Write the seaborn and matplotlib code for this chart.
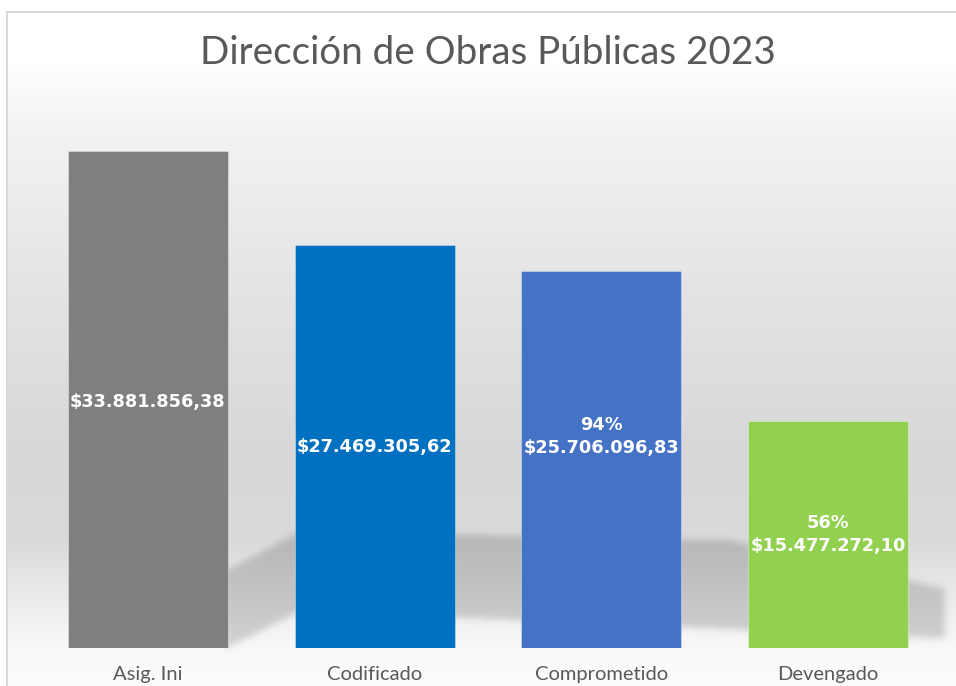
import numpy as np
import pandas as pd
import matplotlib
matplotlib.use("Agg")
import matplotlib.pyplot as plt
from matplotlib.path import Path
import seaborn as sns

# ---------------- data ----------------
categories = ["Asig. Ini", "Codificado", "Comprometido", "Devengado"]
values = [33881856.38, 27469305.62, 25706096.83, 15477272.10]
percent_labels = ["", "", "94%", "56%"]
value_labels = ["$33.881.856,38", "$27.469.305,62", "$25.706.096,83", "$15.477.272,10"]
bar_colors = ["#7f7f7f", "#0070c0", "#4472c4", "#92d050"]
title = "Dirección de Obras Públicas 2023"

W, H = 956, 686
DPI = 100

sns.set_theme(style="white")
plt.rcParams["font.family"] = ["Lato", "DejaVu Sans"]

fig = plt.figure(figsize=(W / DPI, H / DPI), dpi=DPI)
fig.patch.set_facecolor("white")

# ---------------- background (gradient + soft shadow + frame) ----------------
yy = np.arange(H)
stops_y = [0, 60, 130, 300, 450, 540, 600, 650, 686]
stops_v = [255, 255, 243, 227, 216, 218, 236, 249, 252]
prof = np.interp(yy, stops_y, stops_v) / 255.0
bg = np.repeat(prof[:, None], W, axis=1)

poly = [(222, 572), (300, 531), (730, 540), (944, 588), (944, 638), (300, 610), (226, 648)]
gx, gy = np.meshgrid(np.arange(W), np.arange(H))
mask = Path(poly).contains_points(np.c_[gx.ravel(), gy.ravel()]).reshape(H, W).astype(float)


def box_blur(a, r):
    for axis in (0, 1):
        c = np.cumsum(np.pad(a, [(r + 1, r) if i == axis else (0, 0) for i in range(2)], mode="edge"), axis=axis)
        if axis == 0:
            a = (c[2 * r + 1:, :] - c[:-2 * r - 1, :]) / (2 * r + 1)
        else:
            a = (c[:, 2 * r + 1:] - c[:, :-2 * r - 1]) / (2 * r + 1)
    return a


for _ in range(3):
    mask = box_blur(mask, 3)
bg = bg * (1 - 0.16 * mask)

img = np.dstack([bg, bg, bg])
img[:11, :, :] = 1.0
img[:, :6, :] = 1.0
frame_c = 0xd9 / 255.0
img[11:13, 6:, :] = frame_c
img[11:, 6:8, :] = frame_c
fig.figimage(img, xo=0, yo=0, origin="upper", zorder=-10)

# ---------------- axes ----------------
ax_left, ax_right = 34.5, 941.5
ax_bottom_px, ax_top_px = 648, 100
ax = fig.add_axes([ax_left / W, (H - ax_bottom_px) / H,
                   (ax_right - ax_left) / W, (ax_bottom_px - ax_top_px) / H])
ax.set_zorder(5)
ax.patch.set_alpha(0)

df = pd.DataFrame({"cat": categories, "val": values})
sns.barplot(data=df, x="cat", y="val", hue="cat", palette=bar_colors,
            legend=False, width=0.705, ax=ax, saturation=1,
            edgecolor=(1, 1, 1, 0.35), linewidth=0.8)

px_per_unit = 497 / values[0]
ax.set_ylim(0, (ax_bottom_px - ax_top_px) / px_per_unit)
ax.set_xlim(-0.5, len(categories) - 0.5)

for s in ax.spines.values():
    s.set_visible(False)
ax.set_yticks([])
ax.set_xlabel("")
ax.set_ylabel("")
ax.tick_params(axis="x", length=0, pad=13, labelsize=14.5, labelcolor="#595959")
ax.grid(False)

label_offsets_px = [-2, 0, 23, 0]
for i, (v, p, lab) in enumerate(zip(values, percent_labels, value_labels)):
    txt = f"{p}\n{lab}" if p else lab
    y = v / 2 + label_offsets_px[i] / px_per_unit
    ax.text(i, y, txt, ha="center", va="center", color="white",
            fontsize=12.8, fontweight="bold", family=["DejaVu Sans"],
            linespacing=1.4)

fig.text(487.5 / W, 1 - 53 / H, title, ha="center", va="center",
         fontsize=27.8, color="#595959", fontweight="normal", zorder=6)

fig.savefig("out.png", dpi=DPI)
